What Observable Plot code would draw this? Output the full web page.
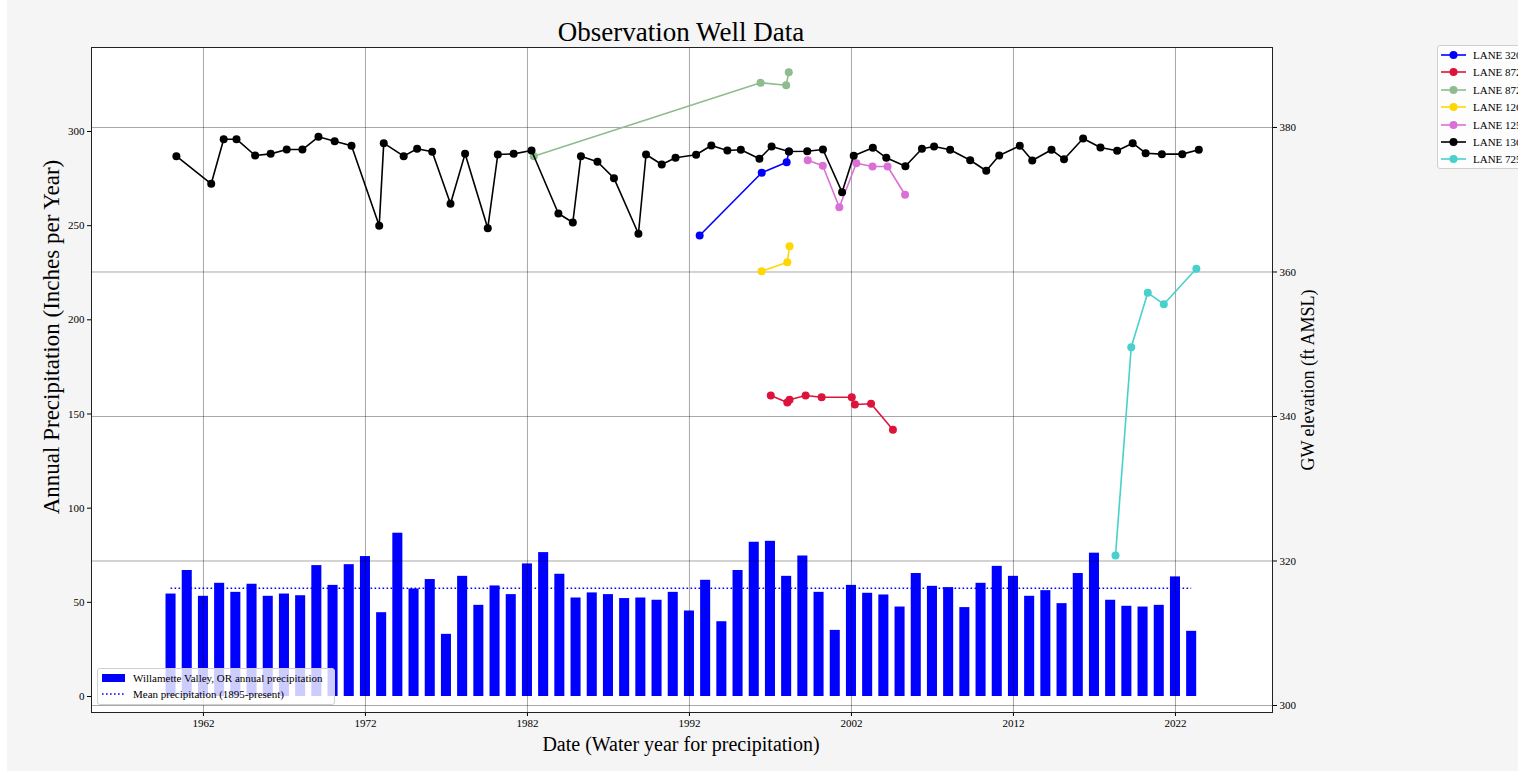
<!DOCTYPE html>
<html><head><meta charset="utf-8">
<script src="https://cdn.jsdelivr.net/npm/d3@7"></script>
<script src="https://cdn.jsdelivr.net/npm/@observablehq/plot@0.6"></script>
<style>
html,body{margin:0;padding:0;background:#fff;overflow:hidden;}
#page{position:relative;width:1518px;height:771px;overflow:hidden;font-family:"Liberation Serif","Times New Roman",serif;color:#000;}
#bg{position:absolute;left:7px;top:0;right:0;bottom:0;background:#f5f5f5;}
#chart{position:absolute;left:0;top:0;}
.lbl{position:absolute;white-space:nowrap;}
.leg{position:absolute;background:rgba(255,255,255,0.8);border:1px solid #d0d0d0;border-radius:3px;box-sizing:border-box;font-size:11px;}
.row{position:absolute;left:0;white-space:nowrap;height:12px;line-height:12px;}
.row svg{position:absolute;left:0;top:0;}
.row span{position:absolute;top:0;}
</style></head><body>
<div id="page">
<div id="bg"></div>
<div id="chart"></div>
<div class="lbl" style="left:0;width:1362px;text-align:center;top:19px;font-size:27px;line-height:27px;">Observation Well Data</div>
<div class="lbl" style="left:0;width:1362px;text-align:center;top:734px;font-size:20px;line-height:20px;">Date (Water year for precipitation)</div>
<div class="lbl" style="left:-148px;width:400px;text-align:center;top:327px;font-size:23px;line-height:20px;transform:rotate(-90deg);transform-origin:200px 10px;">Annual Precipitation (Inches per Year)</div>
<div class="lbl" style="left:1108px;width:400px;text-align:center;top:370px;font-size:18px;line-height:20px;transform:rotate(-90deg);transform-origin:200px 10px;">GW elevation (ft AMSL)</div>
<div class="leg" id="wellLegend" style="left:1437px;top:45px;width:200px;height:124px;"></div>
<div class="leg" id="precipLegend" style="left:97px;top:668px;width:238px;height:37px;"></div>
</div>
<script>
// ---------- data ----------
const precipYears = [1960,1961,1962,1963,1964,1965,1966,1967,1968,1969,1970,1971,1972,1973,1974,1975,1976,1977,1978,1979,1980,1981,1982,1983,1984,1985,1986,1987,1988,1989,1990,1991,1992,1993,1994,1995,1996,1997,1998,1999,2000,2001,2002,2003,2004,2005,2006,2007,2008,2009,2010,2011,2012,2013,2014,2015,2016,2017,2018,2019,2020,2021,2022,2023];
const precipValues = [54.4,66.9,53.2,60.1,55.3,59.6,53.2,54.4,53.5,69.5,59.0,70.0,74.3,44.5,86.7,57.1,62.1,33.0,63.8,48.4,58.7,54.1,70.4,76.4,64.9,52.3,55.0,54.1,52.0,52.3,51.1,55.3,45.4,61.7,39.7,66.9,81.9,82.4,63.8,74.6,55.3,35.1,59.0,54.8,53.9,47.5,65.3,58.5,57.8,47.2,60.1,69.1,63.8,53.2,56.2,49.3,65.3,76.1,51.1,47.9,47.5,48.4,63.5,34.6];
const meanPrecip = 57.5;

const wellNames = ["LANE 3206","LANE 8721","LANE 8722","LANE 1266","LANE 1258","LANE 1360","LANE 7258"];
const wellColors = ["#0000ff","#dc143c","#8fbc8f","#ffd700","#da70d6","#000000","#48d1cc"];

const well1Dates = [1992.63,1996.46,1998.00,1998.14];
const well1Elev  = [365.05,373.73,375.20,376.68];
const well2Dates = [1997.02,1998.04,1998.18,1999.17,2000.16,2002.02,2002.21,2003.21,2004.56];
const well2Elev  = [342.91,341.94,342.31,342.91,342.67,342.67,341.66,341.76,338.16];
const well3Dates = [1982.39,1996.39,1997.97,1998.13];
const well3Elev  = [376.03,386.19,385.85,387.65];
const well4Dates = [1996.45,1998.04,1998.18];
const well4Elev  = [360.11,361.36,363.57];
const well5Dates = [1999.30,2000.23,2001.25,2002.30,2003.30,2004.23,2005.31];
const well5Elev  = [375.47,374.70,368.97,375.06,374.60,374.60,370.69];
const well6Dates = [1960.33,1962.48,1963.25,1964.04,1965.19,1966.15,1967.14,1968.11,1969.10,1970.10,1971.14,1972.85,1973.13,1974.36,1975.19,1976.12,1977.25,1978.15,1979.55,1980.17,1981.15,1982.25,1983.91,1984.80,1985.30,1986.32,1987.34,1988.85,1989.32,1990.29,1991.14,1992.41,1993.35,1994.34,1995.17,1996.32,1997.07,1998.14,1999.27,2000.24,2001.42,2002.14,2003.32,2004.15,2005.33,2006.35,2007.10,2008.09,2009.33,2010.32,2011.12,2012.39,2013.16,2014.35,2015.12,2016.30,2017.37,2018.40,2019.36,2020.16,2021.16,2022.42,2023.44];
const well6Elev  = [376.03,372.21,378.38,378.38,376.12,376.35,376.95,376.95,378.71,378.10,377.46,366.39,377.83,376.03,377.05,376.64,369.44,376.35,366.06,376.26,376.35,376.82,368.10,366.85,376.03,375.25,372.99,365.29,376.26,374.88,375.80,376.22,377.51,376.82,376.91,375.67,377.37,376.68,376.72,376.95,371.05,376.08,377.19,375.80,374.64,377.05,377.37,376.91,375.47,374.01,376.12,377.46,375.43,376.91,375.61,378.48,377.23,376.77,377.83,376.44,376.31,376.31,376.91];
const well7Dates = [2018.30,2019.27,2020.29,2021.28,2023.29];
const well7Elev  = [320.76,349.59,357.12,355.54,360.44];

const xTicks = [1962,1972,1982,1992,2002,2012,2022];
const precipTicks = [0,50,100,150,200,250,300];
const gwTicks = [300,320,340,360,380];

// ---------- scales ----------
const xDomain = [1955.09, 2027.99];
const pDomain = [-8.5, 344.6];
const gwDomain = [299.03, 391.07];
const gwToP = r => pDomain[0] + (r - gwDomain[0]) * (pDomain[1] - pDomain[0]) / (gwDomain[1] - gwDomain[0]);
const pToGw = p => gwDomain[0] + (p - pDomain[0]) * (gwDomain[1] - gwDomain[0]) / (pDomain[1] - pDomain[0]);

const precip = precipYears.map((y, i) => ({year: y, value: precipValues[i]}));
const wellDates = [well1Dates, well2Dates, well3Dates, well4Dates, well5Dates, well6Dates, well7Dates];
const wellElevs = [well1Elev, well2Elev, well3Elev, well4Elev, well5Elev, well6Elev, well7Elev];
const wells = wellNames.map((name, k) => ({
  name, color: wellColors[k],
  data: wellDates[k].map((t, i) => ({t, e: wellElevs[k][i]}))
}));

const wellMarks = wells.flatMap(w => [
  Plot.line(w.data, {x: "t", y: d => gwToP(d.e), stroke: w.color, strokeWidth: 1.6}),
  Plot.dot(w.data, {x: "t", y: d => gwToP(d.e), r: 4, fill: w.color, stroke: "none"})
]);

const chart = Plot.plot({
  width: 1518, height: 771,
  marginLeft: 91, marginRight: 246, marginTop: 47, marginBottom: 59,
  style: {background: "transparent", fontFamily: "'Liberation Serif', 'Times New Roman', serif", fontSize: "11px", color: "black", overflow: "visible"},
  x: {domain: xDomain},
  y: {domain: pDomain},
  marks: [
    Plot.frame({fill: "white", stroke: "none"}),
    Plot.rectY(precip, {x1: d => d.year - 0.31, x2: d => d.year + 0.31, y1: 0, y2: "value", fill: "#0000ff"}),
    Plot.ruleY([meanPrecip], {x1: precipYears[0], x2: precipYears[precipYears.length - 1], stroke: "#0000ff", strokeWidth: 1.6, strokeDasharray: "1.6,2.4"}),
    Plot.ruleX(xTicks, {stroke: "black", strokeOpacity: 0.35, strokeWidth: 1}),
    Plot.ruleY(gwTicks.map(gwToP), {stroke: "black", strokeOpacity: 0.35, strokeWidth: 1}),
    ...wellMarks,
    Plot.axisX(xTicks, {anchor: "bottom", tickSize: 4, tickPadding: 3, tickFormat: d => String(d), label: null}),
    Plot.axisY(precipTicks, {anchor: "left", tickSize: 4, tickPadding: 3, tickFormat: d => String(d), label: null}),
    Plot.axisY(gwTicks.map(gwToP), {anchor: "right", tickSize: 4, tickPadding: 3, tickFormat: d => String(Math.round(pToGw(d))), label: null}),
    Plot.frame({stroke: "#222", strokeWidth: 1})
  ]
});
document.getElementById("chart").appendChild(chart);

// ---------- legends ----------
const wl = document.getElementById("wellLegend");
wells.forEach((w, k) => {
  const row = document.createElement("div");
  row.className = "row";
  row.style.top = (3 + k * 17.4) + "px";
  row.style.width = "200px";
  row.innerHTML = `<svg width="30" height="12"><line x1="3" x2="28" y1="6" y2="6" stroke="${w.color}" stroke-width="1.6"/><circle cx="15.5" cy="6" r="4" fill="${w.color}"/></svg><span style="left:35px">${w.name}</span>`;
  wl.appendChild(row);
});
const pl = document.getElementById("precipLegend");
pl.innerHTML = `
<div class="row" style="top:3px;width:238px;"><svg width="30" height="12"><rect x="4" y="2" width="23" height="8" fill="#0000ff"/></svg><span style="left:35px">Willamette Valley, OR annual precipitation</span></div>
<div class="row" style="top:19px;width:238px;"><svg width="30" height="12"><line x1="4" x2="28" y1="6" y2="6" stroke="#0000ff" stroke-width="1.6" stroke-dasharray="1.6,2.4"/></svg><span style="left:35px">Mean precipitation (1895-present)</span></div>`;
</script>
</body></html>
